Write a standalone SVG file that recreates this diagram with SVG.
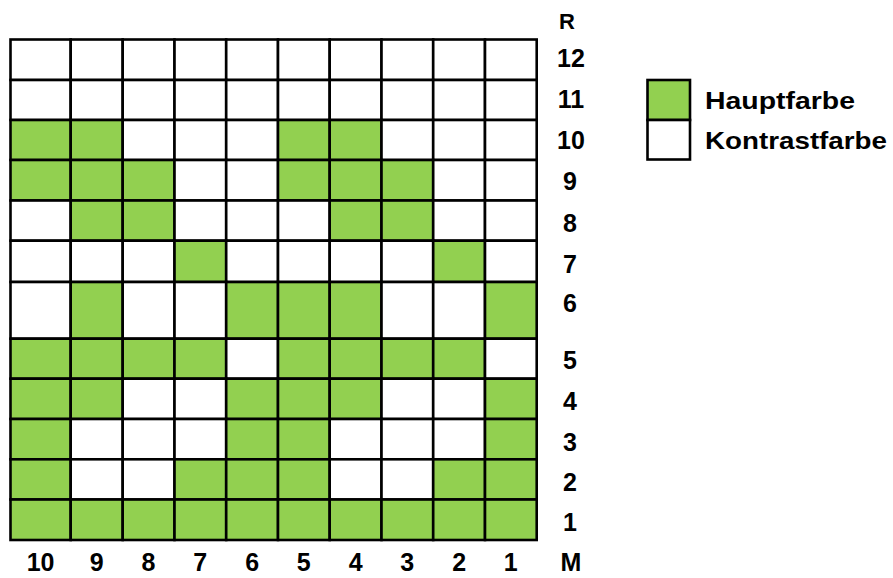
<svg xmlns="http://www.w3.org/2000/svg" width="893" height="578" viewBox="0 0 893 578">
<style>
.g{fill:#92D050;stroke:#000;stroke-width:2.6}
.w{fill:#fff;stroke:#000;stroke-width:2.6}
text{font-family:"Liberation Sans",Arial,sans-serif;font-weight:bold;fill:#000}
.n{font-size:25px;text-anchor:middle}
.r{font-size:22px;text-anchor:middle}
.l{font-size:24px}
</style>
<rect width="893" height="578" fill="#fff"/>
<g id="grid">
<!-- row 12 -->
<rect class="w" x="10.5" y="39.5" width="60.2" height="40.5"/><rect class="w" x="70.7" y="39.5" width="52" height="40.5"/><rect class="w" x="122.7" y="39.5" width="51.8" height="40.5"/><rect class="w" x="174.5" y="39.5" width="51.7" height="40.5"/><rect class="w" x="226.2" y="39.5" width="51.8" height="40.5"/><rect class="w" x="278" y="39.5" width="51.7" height="40.5"/><rect class="w" x="329.7" y="39.5" width="51.8" height="40.5"/><rect class="w" x="381.5" y="39.5" width="51.7" height="40.5"/><rect class="w" x="433.2" y="39.5" width="51.8" height="40.5"/><rect class="w" x="485" y="39.5" width="51.7" height="40.5"/>
<!-- row 11 -->
<rect class="w" x="10.5" y="80" width="60.2" height="40"/><rect class="w" x="70.7" y="80" width="52" height="40"/><rect class="w" x="122.7" y="80" width="51.8" height="40"/><rect class="w" x="174.5" y="80" width="51.7" height="40"/><rect class="w" x="226.2" y="80" width="51.8" height="40"/><rect class="w" x="278" y="80" width="51.7" height="40"/><rect class="w" x="329.7" y="80" width="51.8" height="40"/><rect class="w" x="381.5" y="80" width="51.7" height="40"/><rect class="w" x="433.2" y="80" width="51.8" height="40"/><rect class="w" x="485" y="80" width="51.7" height="40"/>
<!-- row 10 -->
<rect class="g" x="10.5" y="120" width="60.2" height="40"/><rect class="g" x="70.7" y="120" width="52" height="40"/><rect class="w" x="122.7" y="120" width="51.8" height="40"/><rect class="w" x="174.5" y="120" width="51.7" height="40"/><rect class="w" x="226.2" y="120" width="51.8" height="40"/><rect class="g" x="278" y="120" width="51.7" height="40"/><rect class="g" x="329.7" y="120" width="51.8" height="40"/><rect class="w" x="381.5" y="120" width="51.7" height="40"/><rect class="w" x="433.2" y="120" width="51.8" height="40"/><rect class="w" x="485" y="120" width="51.7" height="40"/>
<!-- row 9 -->
<rect class="g" x="10.5" y="160" width="60.2" height="40.5"/><rect class="g" x="70.7" y="160" width="52" height="40.5"/><rect class="g" x="122.7" y="160" width="51.8" height="40.5"/><rect class="w" x="174.5" y="160" width="51.7" height="40.5"/><rect class="w" x="226.2" y="160" width="51.8" height="40.5"/><rect class="g" x="278" y="160" width="51.7" height="40.5"/><rect class="g" x="329.7" y="160" width="51.8" height="40.5"/><rect class="g" x="381.5" y="160" width="51.7" height="40.5"/><rect class="w" x="433.2" y="160" width="51.8" height="40.5"/><rect class="w" x="485" y="160" width="51.7" height="40.5"/>
<!-- row 8 -->
<rect class="w" x="10.5" y="200.5" width="60.2" height="40.2"/><rect class="g" x="70.7" y="200.5" width="52" height="40.2"/><rect class="g" x="122.7" y="200.5" width="51.8" height="40.2"/><rect class="w" x="174.5" y="200.5" width="51.7" height="40.2"/><rect class="w" x="226.2" y="200.5" width="51.8" height="40.2"/><rect class="w" x="278" y="200.5" width="51.7" height="40.2"/><rect class="g" x="329.7" y="200.5" width="51.8" height="40.2"/><rect class="g" x="381.5" y="200.5" width="51.7" height="40.2"/><rect class="w" x="433.2" y="200.5" width="51.8" height="40.2"/><rect class="w" x="485" y="200.5" width="51.7" height="40.2"/>
<!-- row 7 -->
<rect class="w" x="10.5" y="240.7" width="60.2" height="41.3"/><rect class="w" x="70.7" y="240.7" width="52" height="41.3"/><rect class="w" x="122.7" y="240.7" width="51.8" height="41.3"/><rect class="g" x="174.5" y="240.7" width="51.7" height="41.3"/><rect class="w" x="226.2" y="240.7" width="51.8" height="41.3"/><rect class="w" x="278" y="240.7" width="51.7" height="41.3"/><rect class="w" x="329.7" y="240.7" width="51.8" height="41.3"/><rect class="w" x="381.5" y="240.7" width="51.7" height="41.3"/><rect class="g" x="433.2" y="240.7" width="51.8" height="41.3"/><rect class="w" x="485" y="240.7" width="51.7" height="41.3"/>
<!-- row 6 -->
<rect class="w" x="10.5" y="282" width="60.2" height="56.7"/><rect class="g" x="70.7" y="282" width="52" height="56.7"/><rect class="w" x="122.7" y="282" width="51.8" height="56.7"/><rect class="w" x="174.5" y="282" width="51.7" height="56.7"/><rect class="g" x="226.2" y="282" width="51.8" height="56.7"/><rect class="g" x="278" y="282" width="51.7" height="56.7"/><rect class="g" x="329.7" y="282" width="51.8" height="56.7"/><rect class="w" x="381.5" y="282" width="51.7" height="56.7"/><rect class="w" x="433.2" y="282" width="51.8" height="56.7"/><rect class="g" x="485" y="282" width="51.7" height="56.7"/>
<!-- row 5 -->
<rect class="g" x="10.5" y="338.7" width="60.2" height="40"/><rect class="g" x="70.7" y="338.7" width="52" height="40"/><rect class="g" x="122.7" y="338.7" width="51.8" height="40"/><rect class="g" x="174.5" y="338.7" width="51.7" height="40"/><rect class="w" x="226.2" y="338.7" width="51.8" height="40"/><rect class="g" x="278" y="338.7" width="51.7" height="40"/><rect class="g" x="329.7" y="338.7" width="51.8" height="40"/><rect class="g" x="381.5" y="338.7" width="51.7" height="40"/><rect class="g" x="433.2" y="338.7" width="51.8" height="40"/><rect class="w" x="485" y="338.7" width="51.7" height="40"/>
<!-- row 4 -->
<rect class="g" x="10.5" y="378.7" width="60.2" height="40.3"/><rect class="g" x="70.7" y="378.7" width="52" height="40.3"/><rect class="w" x="122.7" y="378.7" width="51.8" height="40.3"/><rect class="w" x="174.5" y="378.7" width="51.7" height="40.3"/><rect class="g" x="226.2" y="378.7" width="51.8" height="40.3"/><rect class="g" x="278" y="378.7" width="51.7" height="40.3"/><rect class="g" x="329.7" y="378.7" width="51.8" height="40.3"/><rect class="w" x="381.5" y="378.7" width="51.7" height="40.3"/><rect class="w" x="433.2" y="378.7" width="51.8" height="40.3"/><rect class="g" x="485" y="378.7" width="51.7" height="40.3"/>
<!-- row 3 -->
<rect class="g" x="10.5" y="419" width="60.2" height="40.3"/><rect class="w" x="70.7" y="419" width="52" height="40.3"/><rect class="w" x="122.7" y="419" width="51.8" height="40.3"/><rect class="w" x="174.5" y="419" width="51.7" height="40.3"/><rect class="g" x="226.2" y="419" width="51.8" height="40.3"/><rect class="g" x="278" y="419" width="51.7" height="40.3"/><rect class="w" x="329.7" y="419" width="51.8" height="40.3"/><rect class="w" x="381.5" y="419" width="51.7" height="40.3"/><rect class="w" x="433.2" y="419" width="51.8" height="40.3"/><rect class="g" x="485" y="419" width="51.7" height="40.3"/>
<!-- row 2 -->
<rect class="g" x="10.5" y="459.3" width="60.2" height="40.2"/><rect class="w" x="70.7" y="459.3" width="52" height="40.2"/><rect class="w" x="122.7" y="459.3" width="51.8" height="40.2"/><rect class="g" x="174.5" y="459.3" width="51.7" height="40.2"/><rect class="g" x="226.2" y="459.3" width="51.8" height="40.2"/><rect class="g" x="278" y="459.3" width="51.7" height="40.2"/><rect class="w" x="329.7" y="459.3" width="51.8" height="40.2"/><rect class="w" x="381.5" y="459.3" width="51.7" height="40.2"/><rect class="g" x="433.2" y="459.3" width="51.8" height="40.2"/><rect class="g" x="485" y="459.3" width="51.7" height="40.2"/>
<!-- row 1 -->
<rect class="g" x="10.5" y="499.5" width="60.2" height="40.5"/><rect class="g" x="70.7" y="499.5" width="52" height="40.5"/><rect class="g" x="122.7" y="499.5" width="51.8" height="40.5"/><rect class="g" x="174.5" y="499.5" width="51.7" height="40.5"/><rect class="g" x="226.2" y="499.5" width="51.8" height="40.5"/><rect class="g" x="278" y="499.5" width="51.7" height="40.5"/><rect class="g" x="329.7" y="499.5" width="51.8" height="40.5"/><rect class="g" x="381.5" y="499.5" width="51.7" height="40.5"/><rect class="g" x="433.2" y="499.5" width="51.8" height="40.5"/><rect class="g" x="485" y="499.5" width="51.7" height="40.5"/>
</g>
<g id="row-labels">
<text class="r" x="567" y="28.5">R</text>
<text class="n" x="571" y="66.7">12</text>
<text class="n" x="571" y="107.9">11</text>
<text class="n" x="571" y="149.1">10</text>
<text class="n" x="570" y="190.3">9</text>
<text class="n" x="570" y="231.5">8</text>
<text class="n" x="570" y="272.7">7</text>
<text class="n" x="570" y="312">6</text>
<text class="n" x="570" y="369">5</text>
<text class="n" x="570" y="410">4</text>
<text class="n" x="570" y="450.5">3</text>
<text class="n" x="570" y="491">2</text>
<text class="n" x="570" y="531">1</text>
</g>
<g id="col-labels">
<text class="n" x="40.6" y="570.5">10</text>
<text class="n" x="96.7" y="570.5">9</text>
<text class="n" x="148.4" y="570.5">8</text>
<text class="n" x="200.3" y="570.5">7</text>
<text class="n" x="252.1" y="570.5">6</text>
<text class="n" x="303.8" y="570.5">5</text>
<text class="n" x="355.6" y="570.5">4</text>
<text class="n" x="407.3" y="570.5">3</text>
<text class="n" x="459.1" y="570.5">2</text>
<text class="n" x="510.8" y="570.5">1</text>
<text class="n" x="571" y="570.5">M</text>
</g>
<g id="legend-hauptfarbe">
<rect class="g" x="647.5" y="80" width="42.5" height="40"/>
<text class="l" x="705" y="109" textLength="150" lengthAdjust="spacingAndGlyphs">Hauptfarbe</text>
</g>
<g id="legend-kontrastfarbe">
<rect class="w" x="647.5" y="120" width="42.5" height="39.5"/>
<text class="l" x="705" y="149" textLength="182" lengthAdjust="spacingAndGlyphs">Kontrastfarbe</text>
</g>
</svg>
